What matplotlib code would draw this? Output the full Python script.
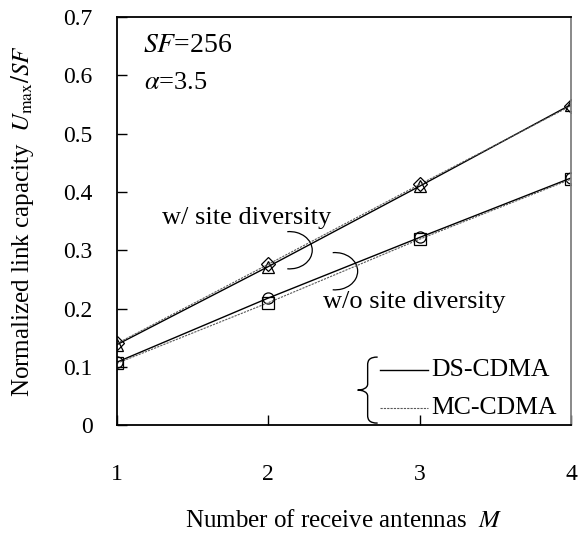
import matplotlib.pyplot as plt
from matplotlib.patches import Arc, PathPatch
from matplotlib.lines import Line2D
from matplotlib.path import Path

plt.rcParams['font.family'] = ['Liberation Serif', 'DejaVu Serif']
plt.rcParams['mathtext.fontset'] = 'stix'

# data
M = [1, 2, 3, 4]
ds_with = [0.138, 0.272, 0.410, 0.550]
mc_with = [0.140, 0.276, 0.413, 0.548]
ds_without = [0.108, 0.218, 0.322, 0.424]
mc_without = [0.106, 0.210, 0.319, 0.422]
yticks = [0, 0.1, 0.2, 0.3, 0.4, 0.5, 0.6, 0.7]
ytick_labels = ['0', '0.1', '0.2', '0.3', '0.4', '0.5', '0.6', '0.7']

fig = plt.figure(figsize=(5.78, 5.36), dpi=100)
ax = fig.add_axes([0.2024, 0.207, 0.7856, 0.761])

ds_style = dict(color='black', lw=1.0, linestyle='-', mfc='none', mec='black', ms=8, mew=0.9)
mc_style = dict(color='0.35', lw=0.8, linestyle=(0, (2, 1)), mfc='none', mec='black', ms=8, mew=0.9)

ax.plot(M, ds_with, marker='^', **ds_style)
ax.plot(M, mc_with, marker='D', **dict(mc_style, ms=7))
ax.plot(M, ds_without, marker='o', **ds_style)
ax.plot(M, mc_without, marker='s', **mc_style)

ax.set_xlim(1, 4)
ax.set_ylim(0, 0.7)
ax.set_xticks(M)
ax.set_yticks(yticks)
ax.set_yticklabels(ytick_labels)
ax.tick_params(axis='both', direction='in', length=7, width=1, labelsize=17)
ax.tick_params(axis='x', pad=28)
ax.tick_params(axis='y', pad=17.5)
for s in ['left', 'bottom', 'top']:
    ax.spines[s].set_linewidth(1.3)
ax.spines['right'].set_color('0.5')
ax.spines['right'].set_linewidth(1.3)

ax.set_xlabel('Number of receive antennas  $M$', fontsize=18, labelpad=18)
ax.set_ylabel('Normalized link capacity  $U_{\\rm max}/SF$', fontsize=18, labelpad=20)

# annotations
ax.text(1.17, 0.652, '$SF$=256', fontsize=20, va='center')
ax.text(1.18, 0.587, r'$\alpha$=3.5', fontsize=19, va='center')
ax.text(1.30, 0.355, 'w/ site diversity', fontsize=19, va='center')
ax.text(2.36, 0.211, 'w/o site diversity', fontsize=19, va='center')
ax.add_patch(Arc((2.14, 0.300), 0.30, 0.064, theta1=-115, theta2=115, color='black', lw=0.9))
ax.add_patch(Arc((2.44, 0.264), 0.30, 0.064, theta1=-115, theta2=115, color='black', lw=0.9))

# bracket legend: brace drawn as a path, pixel offsets converted to data units
px_x, px_y = 3 / 454, 0.7 / 408
tip_x, tip_y = 2.59, 0.060
pts = [(20, 33), (12, 33), (10, 30), (10, 25), (10, 6), (10, 2), (5, 0), (0, 0),
       (5, 0), (10, -2), (10, -6), (10, -25), (10, -30), (12, -33), (20, -33)]
codes = [Path.MOVETO, Path.CURVE4, Path.CURVE4, Path.CURVE4, Path.LINETO,
         Path.CURVE4, Path.CURVE4, Path.CURVE4, Path.CURVE4, Path.CURVE4, Path.CURVE4,
         Path.LINETO, Path.CURVE4, Path.CURVE4, Path.CURVE4]
verts = [(tip_x + dx * px_x, tip_y + dy * px_y) for dx, dy in pts]
ax.add_patch(PathPatch(Path(verts, codes), fill=False, lw=1.0, color='black'))

ax.add_line(Line2D([2.738, 3.055], [0.094, 0.094], color='black', lw=1.0))
ax.add_line(Line2D([2.738, 3.055], [0.029, 0.029], color='0.35', lw=0.8, linestyle=(0, (2, 1))))
ax.text(3.075, 0.094, 'DS-CDMA', fontsize=18.5, va='center')
ax.text(3.075, 0.029, 'MC-CDMA', fontsize=18.5, va='center')

fig.savefig('out.png', dpi=100)
